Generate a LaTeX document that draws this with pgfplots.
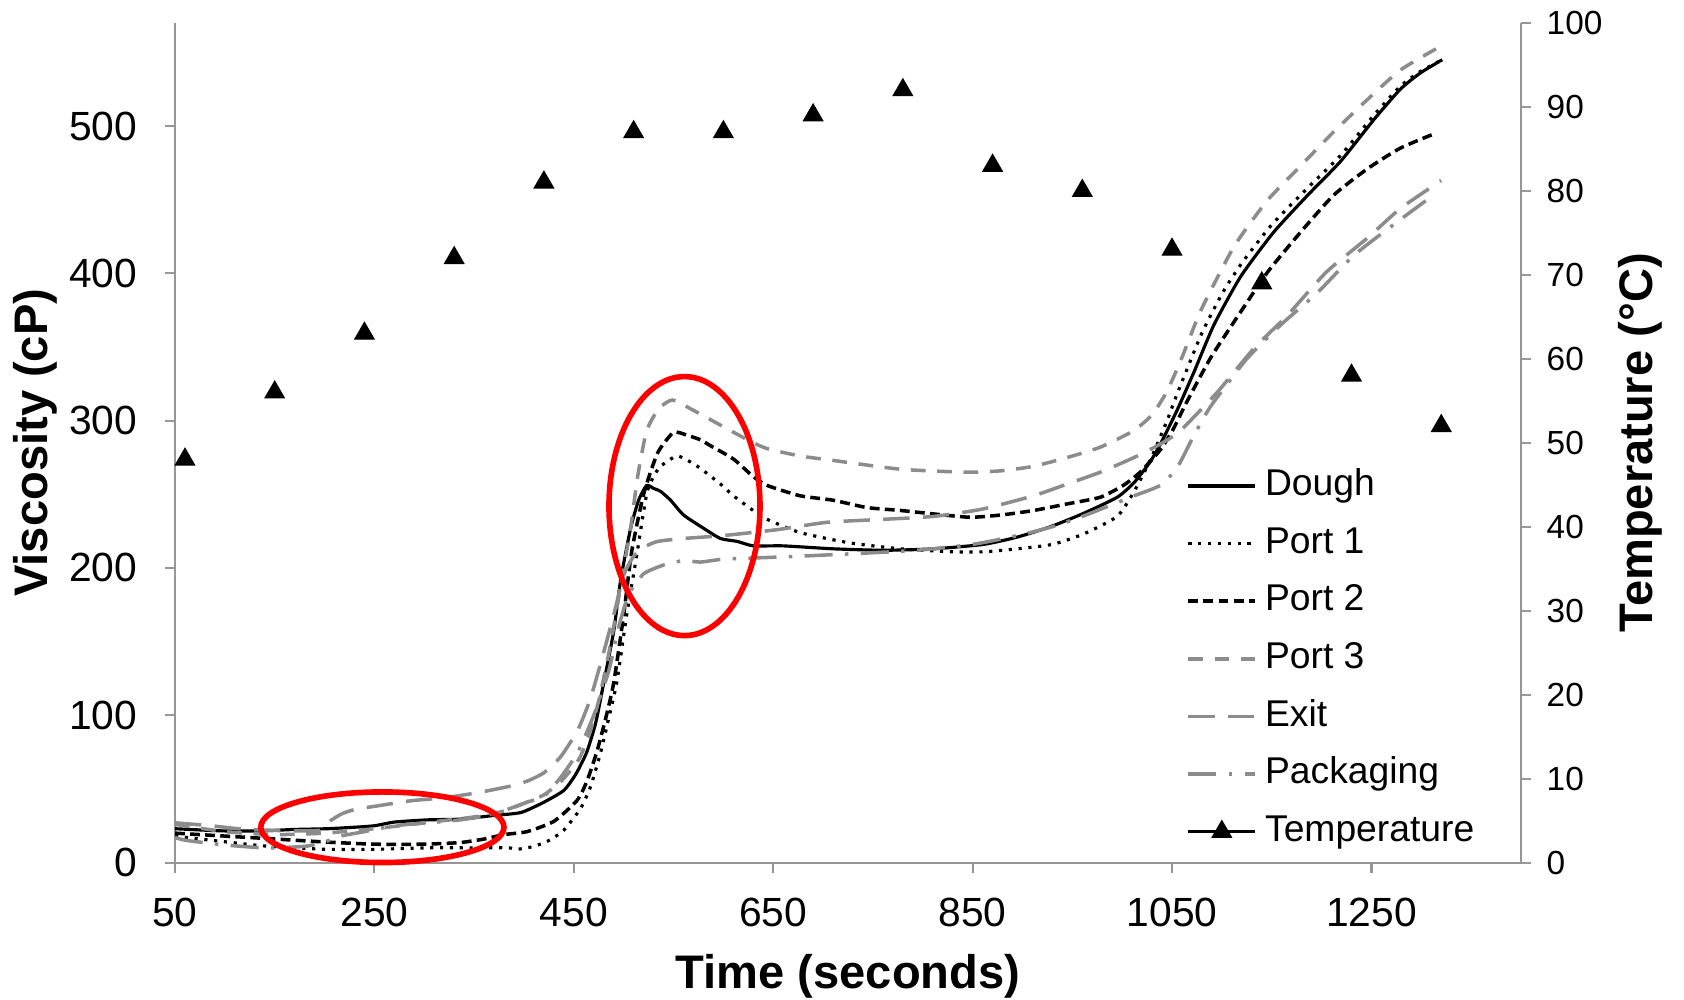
\documentclass[border=0pt]{standalone}
\usepackage{fontspec}
\setmainfont{Liberation Sans}
\usepackage{pgfplots}
\pgfplotsset{compat=1.18}
\definecolor{lg}{RGB}{140,140,140}
\definecolor{ax}{RGB}{150,150,150}
\tikzset{lab/.style={font=\fontsize{13.4}{16}\selectfont\bfseries}}
\pgfplotsset{
  base/.style={scale only axis, width=13.46cm, height=8.397cm, at={(0,0)}, anchor=south west,
    xmin=50, xmax=1400, /pgf/number format/assume math mode=true, /pgf/number format/1000 sep={},
    tick align=outside, major tick length=0.1cm, tick style={ax, line width=0.6pt},
    axis line style={ax, line width=0.6pt, -}},
}
\begin{document}
\begin{tikzpicture}
\useasboundingbox (-1.75cm,-1.374cm) rectangle (15.09cm,8.626cm);
\begin{axis}[base, ymin=0, ymax=570, axis x line*=bottom, axis y line*=left, clip=false,
  xtick={50,250,450,650,850,1050,1250}, ytick={0,100,200,300,400,500},
  xticklabel style={font=\fontsize{11.6}{13}\selectfont, inner sep=0pt, anchor=north, yshift=-0.25cm},
  yticklabel style={font=\fontsize{11.6}{13}\selectfont, inner sep=0pt, anchor=east, xshift=-0.27cm},
  xlabel={Time (seconds)}, ylabel={Viscosity (cP)},
  xlabel style={lab, at={(axis description cs:0.5,-0.136)}, anchor=center},
  ylabel style={lab, at={(axis description cs:-0.1037,0.5)}, anchor=center},
  every axis plot/.append style={smooth, tension=0.35}]
% Dough
\addplot[black, line width=0.9pt] coordinates {
(50,23) (80,22) (100,21.5) (136,21.5) (170,22.5) (203,23) (230,24) (250,25) (270,27.5) (303,29) (336,29.5) (370,32) (397,34) (420,41) (440,49) (452,60) (463,75) (472,95) (480,122) (490,157) (497,192) (507,227) (515,246) (523,256) (530,254) (537,252) (547,246) (560,236) (580,227) (597,220) (614,218) (630,215) (660,215) (710,213) (761,212) (811,213) (861,216) (895,221) (928,228) (961,237) (995,248) (1012,258) (1028,272) (1039,285) (1055,307) (1072,333) (1092,365) (1119,398) (1152,428) (1186,453) (1219,476) (1252,504) (1279,525) (1299,536) (1321,545)};
% Port 1
\addplot[black, line width=0.9pt, dash pattern=on 0.9pt off 1.9pt] coordinates {
(50,18) (75,16) (102,14) (136,11.5) (170,10) (203,9) (250,9) (303,10) (350,10) (385,10) (393,9) (410,11) (425,15) (440,22) (457,37) (467,52) (477,75) (485,98) (493,122) (503,168) (512,204) (523,250) (530,262) (537,269) (554,276) (574,269) (597,257) (610,249) (630,239) (644,233) (677,224) (727,217) (778,213) (828,211) (862,211) (895,213) (930,216) (961,223) (995,235) (1012,252) (1028,273) (1045,300) (1055,318) (1079,358) (1100,386) (1120,407) (1150,433) (1186,458) (1219,480) (1252,507) (1279,527) (1299,537) (1321,545)};
% Port 2
\addplot[black, line width=1pt, dash pattern=on 2.8pt off 1.5pt] coordinates {
(50,20) (100,18) (150,16) (200,14) (250,12.5) (300,12.5) (336,13.6) (360,16) (380,19) (403,21) (430,28) (453,42) (463,55) (473,75) (482,98) (490,122) (500,168) (508,211) (520,250) (534,278) (550,292) (564,290) (577,287) (587,283) (610,274) (630,262) (644,256) (677,249) (710,246) (744,241) (778,239) (845,234.5) (879,236) (911,239) (945,243.5) (978,248) (1001,256) (1018,265) (1038,280) (1051,294) (1065,313) (1089,343) (1119,374) (1146,401) (1179,428) (1212,453) (1246,471) (1279,485) (1314,495)};
% Port 3
\addplot[lg, line width=1pt, dash pattern=on 4.2pt off 3.3pt] coordinates {
(50,26) (100,21) (150,19) (200,20) (250,23) (300,27) (350,31) (380,35) (403,41) (420,46) (437,55) (455,70) (466,88) (475,110) (483,135) (490,160) (500,200) (507,227) (514,262) (523,293) (535,308) (549,314) (570,307) (597,297) (627,286) (644,281) (677,276) (710,273) (778,267) (845,265) (879,266) (911,269) (945,275) (978,282) (1011,293) (1030,304) (1045,320) (1060,343) (1079,375) (1112,418) (1145,449) (1179,473) (1212,496) (1246,518) (1279,538) (1319,554)};
% Exit
\addplot[lg, line width=1pt, dash pattern=on 7.5pt off 3.8pt] coordinates {
(50,27) (86,25) (120,22.6) (170,21.5) (195,22) (205,28) (217,33) (230,36) (253,38.5) (287,42) (320,44) (354,47.5) (387,52) (404,55.5) (420,61) (437,72) (454,90) (466,110) (476,133) (490,168) (500,195) (510,208) (520,214) (534,218) (560,220) (600,222) (654,226) (704,231) (760,233) (811,235) (860,240) (911,249) (945,257) (978,265) (1012,275) (1038,284) (1058,293) (1095,319) (1132,349) (1165,371) (1205,401) (1246,424) (1279,444) (1320,463)};
% Packaging
\addplot[lg, line width=1pt, dash pattern=on 8pt off 3.5pt on 1pt off 3.5pt] coordinates {
(50,17) (62,15) (100,12) (140,10) (180,11) (200,14) (216,18) (240,21) (270,25) (303,27) (336,29) (370,33) (403,41) (420,45) (437,58) (454,75) (470,100) (485,130) (495,160) (505,182) (520,196) (540,202) (560,205) (577,204) (600,206) (640,207) (677,208) (740,210) (794,212) (850,216) (895,222) (930,228) (960,235) (990,243) (1012,249) (1038,256) (1055,268) (1072,290) (1089,310) (1125,342) (1159,365) (1196,387) (1232,412) (1272,433) (1308,451)};
\draw[red, line width=1.6pt] (axis cs:258,24) ellipse [x radius=1.216cm, y radius=0.353cm];
\draw[red, line width=1.6pt] (axis cs:561,242) ellipse [x radius=0.755cm, y radius=1.295cm];
\end{axis}
\begin{axis}[base, ymin=0, ymax=100, axis y line*=right, axis x line=none,
  ytick={0,10,...,100},
  yticklabel style={font=\fontsize{9.5}{11}\selectfont, inner sep=0pt, anchor=west, xshift=0.15cm},
  ylabel={Temperature (°C)},
  ylabel style={lab, at={(axis description cs:1.0884,0.5)}, anchor=center},
  legend image code/.code={\draw[#1] (0cm,0cm) -- (0.67cm,0cm);},
  legend cell align=left,
  legend style={draw=none, fill=none, at={(axis description cs:0.751,0.4701)}, anchor=north west,
    inner sep=0pt, column sep=0.08cm, row sep=6.5pt,
    font=\fontsize{10.6}{12}\selectfont,
    nodes={inner sep=0pt, text height=7.7pt, text depth=2.2pt}}]
\addlegendimage{black, line width=0.9pt}
\addlegendentry{Dough}
\addlegendimage{black, line width=0.9pt, dash pattern=on 0.9pt off 1.9pt}
\addlegendentry{Port 1}
\addlegendimage{black, line width=1pt, dash pattern=on 2.8pt off 1.5pt}
\addlegendentry{Port 2}
\addlegendimage{lg, line width=1pt, dash pattern=on 4.2pt off 3.3pt}
\addlegendentry{Port 3}
\addlegendimage{lg, line width=1pt, dash pattern=on 7.5pt off 3.8pt}
\addlegendentry{Exit}
\addlegendimage{lg, line width=1pt, dash pattern=on 8pt off 3.5pt on 1pt off 3.5pt}
\addlegendentry{Packaging}
\addplot[only marks, mark=triangle*, mark size=3.1pt, black,
  legend image code/.code={\draw[black, line width=0.9pt] (0cm,0cm) -- (0.67cm,0cm);
    \draw[black, fill=black] plot[mark=triangle*, mark size=3.1pt] coordinates {(0.335cm,0cm)};}]
  coordinates {(60,48) (150,56) (240,63) (330,72) (420,81) (510,87) (600,87) (690,89) (780,92) (870,83) (960,80) (1050,73) (1140,69) (1230,58) (1320,52)};
\addlegendentry{Temperature}
\end{axis}
\end{tikzpicture}
\end{document}
